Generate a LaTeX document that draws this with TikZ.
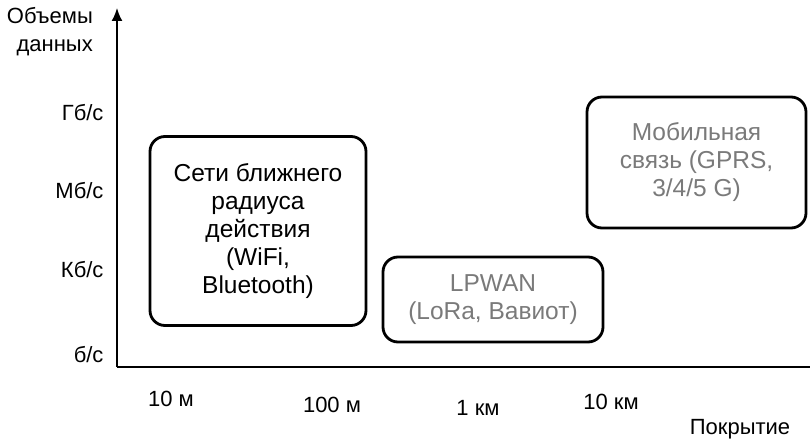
\documentclass[tikz,border=0pt]{standalone}
\usepackage{fontspec}
\setmainfont{Liberation Sans}
\usetikzlibrary{arrows.meta}
\begin{document}
\begin{tikzpicture}[x=1pt,y=-1pt,
  axis/.style={line width=1.8pt},
  rbox/.style={draw=black, line width=2.8pt, rounded corners=15pt},
  boxtext/.style={align=center, font=\fontsize{24.5}{28}\selectfont},
  graytext/.style={boxtext, text=black!52},
  lbl/.style={font=\fontsize{22}{28}\selectfont}
]
\useasboundingbox (0,0) rectangle (811,444);
\coordinate (O) at (117,367);
\coordinate (Ytop) at (117,8);
\coordinate (Xend) at (810,367);
\draw[axis,-{Latex[length=13pt,width=11pt]}] (O) -- (Ytop);
\draw[axis] (O) -- (Xend);

\node[rbox, minimum width=216pt, minimum height=189pt] (b1) at (258,231) {};
\node[boxtext] (t1) at (b1.center) {Сети ближнего\\радиуса\\действия\\(WiFi,\\Bluetooth)};
\node[rbox, minimum width=220pt, minimum height=85pt] (b2) at (493,299.5) {};
\node[graytext] (t2) at (b2.center) {LPWAN\\(LoRa, Вавиот)};
\node[rbox, minimum width=219pt, minimum height=131pt] (b3) at (696.5,162.5) {};
\node[graytext] (t3) at (b3.center) {Мобильная\\связь (GPRS,\\3/4/5 G)};

\node[lbl, align=right, anchor=east, inner sep=0pt] (ylab) at (93,32) {Объемы\\данных};
\node[lbl, anchor=east] (g) at (107,113) {Гб/с};
\node[lbl, anchor=east] (m) at (107,191) {Мб/с};
\node[lbl, anchor=east] (k) at (107,270) {Кб/с};
\node[lbl, anchor=east] (b) at (107,355) {б/с};

\node[lbl] (x1) at (171,399) {10 м};
\node[lbl] (x2) at (332,405) {100 м};
\node[lbl] (x3) at (478,408) {1 км};
\node[lbl] (x4) at (611,402) {10 км};
\node[lbl] (xlab) at (740,429) {Покрытие};
\end{tikzpicture}
\end{document}
